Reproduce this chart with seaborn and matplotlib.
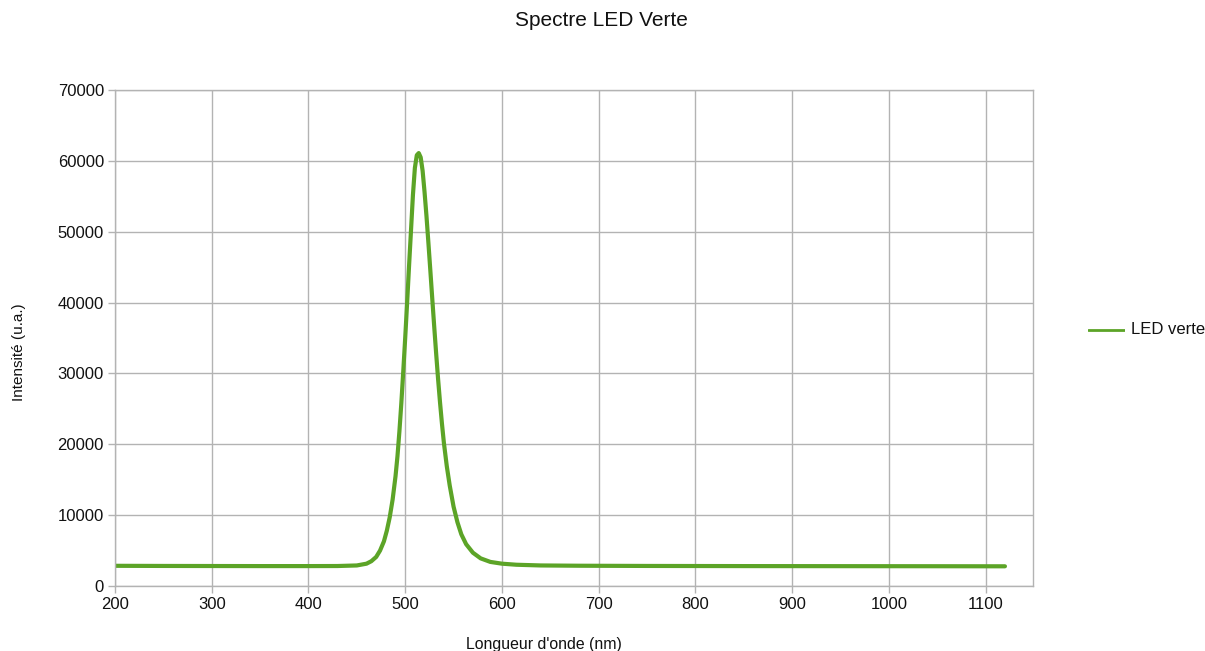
import matplotlib
matplotlib.use("Agg")
import matplotlib.pyplot as plt
import seaborn as sns
import pandas as pd

# Green LED emission spectrum (wavelength in nm, intensity in arbitrary units)
wavelength = [200, 250, 300, 350, 400, 430, 450, 460, 465, 470, 474, 478, 481,
              484, 487, 490, 492, 494, 496, 498, 500, 502, 504, 506, 508, 510,
              512, 514, 516, 518, 520, 522, 524, 526, 528, 530, 532, 534, 536,
              538, 540, 543, 546, 550, 554, 558, 563, 570, 578, 588, 600, 615,
              640, 680, 750, 850, 950, 1050, 1120]
intensity = [2850, 2830, 2820, 2810, 2810, 2820, 2900, 3150, 3500, 4100, 5000,
             6300, 7800, 9700, 12200, 15500, 18300, 21800, 25800, 30300, 35000,
             40000, 45200, 50200, 55200, 59000, 60800, 61100, 60500, 58600,
             55600, 52200, 48400, 44500, 40500, 36600, 32800, 29200, 25900,
             22900, 20200, 16900, 14200, 11200, 9000, 7300, 5900, 4700, 3900,
             3400, 3150, 3000, 2900, 2860, 2830, 2810, 2800, 2790, 2780]

df = pd.DataFrame({"Longueur d'onde (nm)": wavelength, "Intensité (u.a.)": intensity})

sns.set_theme(style="whitegrid")
plt.rcParams["font.family"] = ["Liberation Sans", "DejaVu Sans"]

fig = plt.figure(figsize=(12.05, 6.51), dpi=100)
ax = fig.add_axes([115 / 1205, 1 - 586 / 651, (1033 - 115) / 1205, (586 - 90) / 651])

line_color = "#5ca427"
grid_color = "#b3b3b3"
text_color = "#111111"

sns.lineplot(data=df, x="Longueur d'onde (nm)", y="Intensité (u.a.)", ax=ax,
             color=line_color, linewidth=3, label="LED verte", legend=False)

ax.set_xlim(200, 1149)
ax.set_ylim(0, 70000)
ax.set_xticks(range(200, 1101, 100))
ax.set_yticks(range(0, 70001, 10000))
ax.grid(True, color=grid_color, linewidth=1)
for s in ax.spines.values():
    s.set_color(grid_color)
    s.set_linewidth(1)
ax.tick_params(axis="both", which="both", direction="out", length=5, width=1,
               color=grid_color, labelsize=12, labelcolor=text_color, pad=3,
               left=True, bottom=True)
ax.set_xlabel("")
ax.set_ylabel("")

fig.text(601 / 1205, 1 - 20 / 651, "Spectre LED Verte", ha="center", va="center",
         fontsize=15, color=text_color)
fig.text(544 / 1205, 1 - 645 / 651, "Longueur d'onde (nm)", ha="center", va="center",
         fontsize=11.4, color=text_color)
fig.text(19 / 1205, 1 - 352 / 651, "Intensité (u.a.)", ha="center", va="center",
         rotation=90, fontsize=11, color=text_color)

# legend entry to the right of the plot area
leg_ax = fig.add_axes([1088 / 1205, 1 - 340 / 651, 37 / 1205, 20 / 651])
leg_ax.axis("off")
leg_ax.plot([0, 1], [0.5, 0.5], color=line_color, linewidth=2)
leg_ax.set_xlim(0, 1)
leg_ax.set_ylim(0, 1)
fig.text(1131 / 1205, 1 - 330 / 651, "LED verte", ha="left", va="center",
         fontsize=12, color=text_color)

fig.savefig("out.png", dpi=100, facecolor="white")
